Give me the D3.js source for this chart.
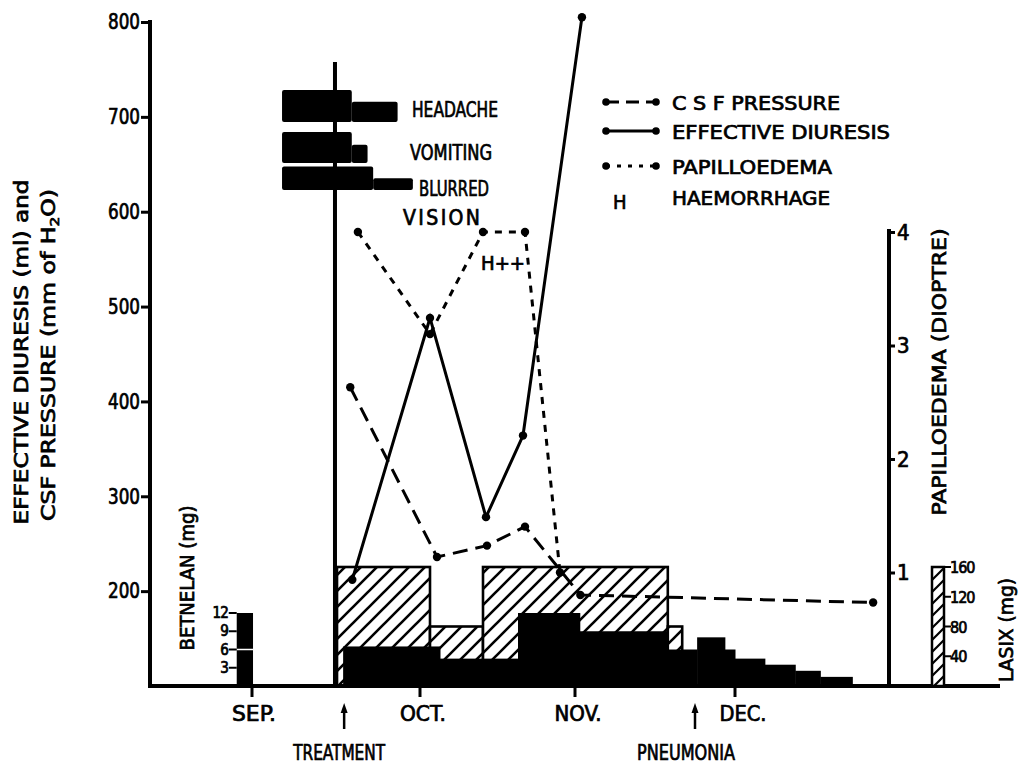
<!DOCTYPE html>
<html>
<head>
<meta charset="utf-8">
<script src="https://cdn.jsdelivr.net/npm/d3@7"></script>
<style>
  html, body { margin: 0; padding: 0; background: #fff; }
  svg { display: block; }
  text { font-family: "DejaVu Sans Condensed", "DejaVu Sans", sans-serif; font-stretch: condensed; font-weight: normal; fill: #000; stroke: #000; stroke-width: 0.7px; }
</style>
</head>
<body>
<svg id="chart" width="1019" height="765"></svg>
<script>
// ---------------- DATA ----------------
// time axis: days, day 0 = 1 October
const monthLabels = ["SEP.", "OCT.", "NOV.", "DEC."];
const monthDays = [-33, 0, 31, 61];

const leftTicks = [200, 300, 400, 500, 600, 700, 800];
const papTicks = [1, 2, 3, 4];
const lasixTicks = [40, 80, 120, 160];
const betTicks = [3, 6, 9, 12];

// CSF pressure (mm H2O)
const csfDays = [-13.7, 3.4, 13.4, 21, 32, 86.9];
const csfValues = [415, 236, 248, 268, 196, 188];

// Effective diuresis (ml)
const diuresisDays = [-13.3, 2, 13.2, 20.6, 32.3];
const diuresisValues = [212, 488, 278, 364, 805];

// Papilloedema (dioptre)
const papDays = [-12.2, 2, 12.6, 21, 28];
const papValues = [4, 3.1, 4, 4, 1];

// Lasix (mg) hatched bars
const lasixStart = [-16.3, 2, 12.6, 48.4];
const lasixEnd = [2, 12.6, 48.4, 51.1];
const lasixDose = [160, 80, 160, 80];

// Betnelan (mg) black bars
const betStart = [-15.1, 4, 19.6, 31.9, 48.4, 53.9, 59.1, 61, 66.6, 72.3, 77];
const betEnd = [4, 19.6, 31.9, 48.4, 53.9, 59.1, 61, 66.6, 72.3, 77, 83];
const betDose = [6.5, 4.5, 12, 9, 6, 8, 6, 4.5, 3.5, 2.5, 1.5];

// Betnelan in September (stacked)
const sepBetStart = -36;
const sepBetEnd = -32.8;
const sepBetDoses = [6, 6];

// Symptoms (severity 0-3)
const symptomNames = ["HEADACHE", "VOMITING", "BLURRED"];
const symptomStart = [[-27.1, -13.4], [-27.1, -13.4], [-27.1, -9.2]];
const symptomEnd = [[-13.4, -4.4], [-13.4, -10.3], [-9.2, -1.4]];
const symptomSeverity = [[3, 1.9], [2.9, 1.7], [2.2, 1.1]];

const treatmentLineDay = -16.7;
const treatmentArrowDay = -14.9;
const pneumoniaDay = 53.5;

// Haemorrhage mark
const haemDays = [12.6, 21];
const haemLabel = "H++";

// ---------------- SCALES ----------------
const svg = d3.select("#chart");
const base = 686;
const x = d3.scaleLinear().domain(monthDays).range([252, 420, 575, 735]);
const y = d3.scaleLinear().domain([100, 800]).range([base, 22]);
const yPap = d3.scaleLinear().domain([0, 4]).range([base, 232]);
const yLasix = d3.scaleLinear().domain([0, 160]).range([base, 567]);
const yBet = d3.scaleLinear().domain([0, 12]).range([base, 613]);
const sev = d3.scaleLinear().domain([0, 3]).range([0, 32]);

function txt(sel, len, mode) {
  return sel.attr("textLength", len).attr("lengthAdjust", mode || "spacingAndGlyphs");
}

// hatch pattern
const defs = svg.append("defs");
const pat = defs.append("pattern").attr("id", "hatch").attr("patternUnits", "userSpaceOnUse")
  .attr("width", 16).attr("height", 16);
pat.append("rect").attr("width", 16).attr("height", 16).attr("fill", "#fff");
pat.append("path").attr("d", "M-4,4 L4,-4 M0,16 L16,0 M12,20 L20,12")
  .attr("stroke", "#000").attr("stroke-width", 2.6);

const patS = defs.append("pattern").attr("id", "hatchS").attr("patternUnits", "userSpaceOnUse")
  .attr("width", 12).attr("height", 12);
patS.append("rect").attr("width", 12).attr("height", 12).attr("fill", "#fff");
patS.append("path").attr("d", "M-3,3 L3,-3 M0,12 L12,0 M9,15 L15,9")
  .attr("stroke", "#000").attr("stroke-width", 2.2);

// ---------------- LASIX hatched bars ----------------
const lasix = lasixDose.map((d, i) => ({ s: lasixStart[i], e: lasixEnd[i], v: d }));
svg.append("g").selectAll("rect").data(lasix).join("rect")
  .attr("x", d => x(d.s)).attr("width", d => x(d.e) - x(d.s))
  .attr("y", d => yLasix(d.v)).attr("height", d => base - yLasix(d.v))
  .attr("fill", "url(#hatch)").attr("stroke", "#000").attr("stroke-width", 2.6);

// ---------------- BETNELAN black bars ----------------
const bet = betDose.map((d, i) => ({ s: betStart[i], e: betEnd[i], v: d }));
svg.append("g").selectAll("rect").data(bet).join("rect")
  .attr("x", d => x(d.s)).attr("width", d => x(d.e) - x(d.s) + 0.5)
  .attr("y", d => yBet(d.v)).attr("height", d => base - yBet(d.v))
  .attr("fill", "#000");

// September Betnelan stacked
let cum = 0;
sepBetDoses.forEach((d, i) => {
  svg.append("rect").attr("x", x(sepBetStart)).attr("width", x(sepBetEnd) - x(sepBetStart))
    .attr("y", yBet(cum + d)).attr("height", yBet(cum) - yBet(cum + d)).attr("fill", "#000");
  cum += d;
});
svg.append("line").attr("x1", x(sepBetStart)).attr("x2", x(sepBetEnd))
  .attr("y1", yBet(6)).attr("y2", yBet(6)).attr("stroke", "#fff").attr("stroke-width", 1.5);

// ---------------- SYMPTOMS ----------------
const rowBottoms = [122, 163, 190];
symptomNames.forEach((name, r) => {
  symptomSeverity[r].forEach((s, j) => {
    svg.append("rect").attr("x", x(symptomStart[r][j])).attr("width", x(symptomEnd[r][j]) - x(symptomStart[r][j]))
      .attr("y", rowBottoms[r] - sev(s)).attr("height", sev(s)).attr("fill", "#000")
      .attr("rx", 2);
  });
});

// treatment vertical line
svg.append("line").attr("x1", x(treatmentLineDay)).attr("x2", x(treatmentLineDay))
  .attr("y1", 62).attr("y2", base).attr("stroke", "#000").attr("stroke-width", 4);

// symptom labels
const symLab = [
  { t: "HEADACHE", x: 412, y: 117, w: 86, m: "spacingAndGlyphs" },
  { t: "VOMITING", x: 410, y: 160, w: 82, m: "spacingAndGlyphs" },
  { t: "BLURRED", x: 419, y: 196, w: 70, m: "spacingAndGlyphs" },
  { t: "VISION", x: 403, y: 225, w: 77, m: "spacing" }
];
svg.append("g").selectAll("text").data(symLab).join("text")
  .attr("x", d => d.x).attr("y", d => d.y).attr("font-size", 21)
  .attr("textLength", d => d.w).attr("lengthAdjust", d => d.m).text(d => d.t);

// ---------------- LINES ----------------
const csf = csfDays.map((d, i) => [x(d), y(csfValues[i])]);
const diu = diuresisDays.map((d, i) => [x(d), y(diuresisValues[i])]);
const pap = papDays.map((d, i) => [x(d), yPap(papValues[i])]);
const line = d3.line();
const gl = svg.append("g").attr("fill", "none").attr("stroke", "#000");
gl.append("path").attr("d", line(pap)).attr("stroke-width", 3).attr("stroke-dasharray", "7,7");
gl.append("path").attr("d", line(csf)).attr("stroke-width", 3).attr("stroke-dasharray", "15,8");
gl.append("path").attr("d", line(diu)).attr("stroke-width", 3);

const dots = [].concat(csf, diu, pap);
svg.append("g").selectAll("circle").data(dots).join("circle")
  .attr("cx", d => d[0]).attr("cy", d => d[1]).attr("r", 4.2).attr("fill", "#000");

// H++ label
txt(svg.append("text").attr("x", 481).attr("y", 270)
  .attr("font-size", 19), 44).text(haemLabel);

// ---------------- AXES ----------------
// left axis
const yAxis = d3.axisLeft(y).tickValues(leftTicks).tickSize(9).tickSizeOuter(0).tickFormat(d3.format("d"));
const ga = svg.append("g").attr("transform", "translate(150,0)").call(yAxis);
ga.select(".domain").attr("stroke-width", 4).attr("d", `M0,${y(800) - 2}V${base}`);
ga.selectAll(".tick line").attr("stroke-width", 3);
ga.selectAll(".tick text").attr("font-size", 21).attr("font-weight", "bold")
  .attr("font-family", "'DejaVu Sans Condensed', sans-serif").attr("x", -10)
  .attr("textLength", 32).attr("lengthAdjust", "spacingAndGlyphs");

// baseline
svg.append("line").attr("x1", 148).attr("x2", 1000).attr("y1", base).attr("y2", base)
  .attr("stroke", "#000").attr("stroke-width", 4);

// month ticks
const monthW = [44, 46, 47, 47];
const mt = svg.append("g").selectAll("g").data(monthLabels).join("g")
  .attr("transform", (d, i) => `translate(${x(monthDays[i])},0)`);
mt.append("line").attr("y1", base).attr("y2", base + 11).attr("stroke", "#000").attr("stroke-width", 3);
mt.append("text").attr("x", (d, i) => i === 3 ? 8 : (i === 0 ? 2 : 3)).attr("y", 721).attr("text-anchor", "middle").attr("font-size", 21)
  .attr("textLength", (d, i) => monthW[i]).attr("lengthAdjust", "spacingAndGlyphs").text(d => d);

// arrows
function arrow(day, label, labelDx, w) {
  const ax = x(day);
  svg.append("line").attr("x1", ax).attr("x2", ax).attr("y1", 708).attr("y2", 729)
    .attr("stroke", "#000").attr("stroke-width", 2.5);
  svg.append("path").attr("d", `M${ax - 3.5},${713}L${ax},${703}L${ax + 3.5},${713}Z`).attr("fill", "#000");
  txt(svg.append("text").attr("x", ax + labelDx).attr("y", 760).attr("text-anchor", "middle")
    .attr("font-size", 21), w).text(label);
}
arrow(treatmentArrowDay, "TREATMENT", -5, 92);
arrow(pneumoniaDay, "PNEUMONIA", -9, 98);

// left title
txt(svg.append("text").attr("transform", "translate(28,352) rotate(-90)")
  .attr("text-anchor", "middle").attr("font-size", 20), 345)
  .text("EFFECTIVE DIURESIS (ml) and");
const lt2 = txt(svg.append("text").attr("transform", "translate(55,355) rotate(-90)")
  .attr("text-anchor", "middle").attr("font-size", 20), 332);
lt2.append("tspan").text("CSF PRESSURE (mm of H");
lt2.append("tspan").attr("font-size", 13).attr("dy", 4).text("2");
lt2.append("tspan").attr("dy", -4).text("O)");

// Betnelan axis
const gb = svg.append("g");
betTicks.forEach(t => {
  gb.append("line").attr("x1", x(sepBetStart) - 8).attr("x2", x(sepBetStart)).attr("y1", yBet(t)).attr("y2", yBet(t))
    .attr("stroke", "#000").attr("stroke-width", 2);
  gb.append("text").attr("x", x(sepBetStart) - 9).attr("y", yBet(t) + 5).attr("text-anchor", "end")
    .attr("font-size", 15).attr("letter-spacing", -1).text(t);
});
txt(svg.append("text").attr("transform", "translate(194,578) rotate(-90)").attr("text-anchor", "middle")
  .attr("font-size", 19), 145).text("BETNELAN (mg)");

// Papilloedema axis (right)
const papX = 889;
const yPapAxis = d3.axisRight(yPap).tickValues(papTicks).tickSize(6).tickSizeOuter(0).tickFormat(d3.format("d"));
const gp = svg.append("g").attr("transform", `translate(${papX},0)`).call(yPapAxis);
gp.select(".domain").attr("stroke-width", 4).attr("d", `M0,${yPap(4) - 3}V${base}`);
gp.selectAll(".tick line").attr("stroke-width", 3);
gp.selectAll(".tick text").attr("font-size", 22).attr("x", 8)
  .attr("font-family", "'DejaVu Sans Condensed', sans-serif");
txt(svg.append("text").attr("transform", "translate(946,372) rotate(-90)").attr("text-anchor", "middle")
  .attr("font-size", 20), 287).text("PAPILLOEDEMA (DIOPTRE)");

// Lasix key bar
const lasX0 = 932, lasX1 = 944;
svg.append("rect").attr("x", lasX0).attr("width", lasX1 - lasX0).attr("y", yLasix(160))
  .attr("height", base - yLasix(160)).attr("fill", "url(#hatchS)").attr("stroke", "#000").attr("stroke-width", 2.5);
lasixTicks.forEach(t => {
  svg.append("line").attr("x1", lasX1).attr("x2", lasX1 + 7).attr("y1", yLasix(t)).attr("y2", yLasix(t))
    .attr("stroke", "#000").attr("stroke-width", 2);
  svg.append("text").attr("x", lasX1 + 6).attr("y", yLasix(t) + 6).attr("font-size", 16)
    .attr("letter-spacing", -1).text(t);
});
txt(svg.append("text").attr("transform", "translate(1013,630) rotate(-90)").attr("text-anchor", "middle")
  .attr("font-size", 19), 104).text("LASIX (mg)");

// ---------------- LEGEND ----------------
const legend = [
  { t: "C S F PRESSURE", dash: "13,7", y: 102, w: 168 },
  { t: "EFFECTIVE DIURESIS", dash: null, y: 131, w: 218 },
  { t: "PAPILLOEDEMA", dash: "4,7", y: 166, w: 160 }
];
const lg = svg.append("g");
legend.forEach(l => {
  lg.append("line").attr("x1", 606).attr("x2", 656).attr("y1", l.y).attr("y2", l.y)
    .attr("stroke", "#000").attr("stroke-width", 3).attr("stroke-dasharray", l.dash);
  lg.append("circle").attr("cx", 606).attr("cy", l.y).attr("r", 3.8);
  lg.append("circle").attr("cx", 656).attr("cy", l.y).attr("r", 3.8);
  txt(lg.append("text").attr("x", 672).attr("y", l.y + 8).attr("font-size", 20), l.w).text(l.t);
});
lg.append("text").attr("x", 613).attr("y", 209).attr("font-size", 20).text("H");
txt(lg.append("text").attr("x", 672).attr("y", 205).attr("font-size", 20), 158).text("HAEMORRHAGE");
</script>
</body>
</html>
